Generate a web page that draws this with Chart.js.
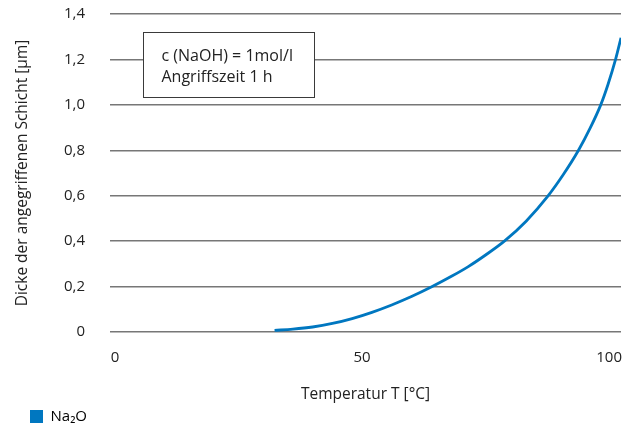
<!DOCTYPE html>
<html>
<head>
<meta charset="utf-8">
<script src="https://cdn.jsdelivr.net/npm/chart.js@4"></script>
<style>
  html, body { margin: 0; padding: 0; background: #fff; }
  #wrap { width: 631px; height: 431px; }
</style>
</head>
<body>
<div id="wrap"><canvas id="myChart" width="631" height="431"></canvas></div>
<script>
// values
var temperatur = [32.3, 36, 40, 44, 48, 52, 56, 60, 64.1, 68, 71.5, 75, 78.8, 83.2, 87.6, 90.7, 93.8, 96.1, 98.3, 99.8, 101.3, 102.4];
var dicke = [0.007, 0.0125, 0.022, 0.0376, 0.059, 0.0866, 0.119, 0.156, 0.199, 0.244, 0.288, 0.339, 0.4, 0.488, 0.598, 0.692, 0.8, 0.895, 1.0, 1.092, 1.2, 1.295];
var xTicks = [0, 50, 100];
var yTicks = [0, 0.2, 0.4, 0.6, 0.8, 1.0, 1.2, 1.4];
var seriesName = "Na\u2082O";
var noteLines = ["c (NaOH) = 1mol/l", "Angriffszeit 1 h"];
// note box corners in data units
var noteBox = { x0: 5.6, x1: 40.2, y0: 1.32, y1: 1.034 };

var blue = "#0077c0";
var fontFam = "'Open Sans', sans-serif";

var points = temperatur.map(function (t, i) {
  return { x: t, y: dicke[i] };
});

// box with the test conditions
const noteBoxPlugin = {
  id: "noteBox",
  beforeDatasetsDraw(chart) {
    const { ctx, scales: { x, y } } = chart;
    const left = Math.round(x.getPixelForValue(noteBox.x0)) + 0.5;
    const right = Math.round(x.getPixelForValue(noteBox.x1)) + 0.5;
    const top = Math.round(y.getPixelForValue(noteBox.y0)) + 0.5;
    const bottom = Math.round(y.getPixelForValue(noteBox.y1)) + 0.5;
    ctx.save();
    ctx.fillStyle = "#fff";
    ctx.fillRect(left, top, right - left, bottom - top);
    ctx.strokeStyle = "#3a3a3a";
    ctx.lineWidth = 1;
    ctx.strokeRect(left, top, right - left, bottom - top);
    ctx.fillStyle = "#222";
    ctx.font = "16px " + fontFam;
    ctx.textAlign = "left";
    ctx.textBaseline = "alphabetic";
    noteLines.forEach((line, i) => {
      ctx.fillText(line, left + 18, top + 28 + i * 21);
    });
    ctx.restore();
  },
};

const ctx = document.getElementById("myChart");

const config = {
  type: "line",
  data: {
    datasets: [
      {
        label: seriesName,
        data: points,
        borderColor: blue,
        backgroundColor: blue,
        borderWidth: 2.8,
        pointRadius: 0,
        cubicInterpolationMode: "monotone",
        fill: false,
      },
    ],
  },
  options: {
    responsive: false,
    animation: false,
    layout: { padding: { left: 20, right: 10, top: 14, bottom: -3 } },
    plugins: {
      tooltip: { enabled: false },
      legend: {
        position: "bottom",
        align: "start",
        labels: {
          boxWidth: 13,
          boxHeight: 13,
          color: "#222",
          font: { family: fontFam, size: 15 },
          generateLabels(chart) {
            return [{
              text: seriesName,
              fillStyle: blue,
              strokeStyle: blue,
              lineWidth: 0,
              datasetIndex: 0,
            }];
          },
        },
      },
    },
    scales: {
      x: {
        type: "linear",
        min: -1,
        max: 102.4,
        afterBuildTicks(axis) {
          axis.ticks = xTicks.map((v) => ({ value: v }));
        },
        afterFit(axis) {
          axis.height = 67;
        },
        grid: { drawOnChartArea: false, drawTicks: true, tickLength: 17, tickColor: "rgba(0,0,0,0)" },
        border: { display: false },
        ticks: {
          padding: 0,
          color: "#222",
          font: { family: fontFam, size: 15 },
        },
        title: {
          display: true,
          text: "Temperatur T [°C]",
          color: "#222",
          font: { family: fontFam, size: 15.5 },
          padding: { top: 0, bottom: -5 },
        },
      },
      y: {
        min: 0,
        max: 1.4,
        afterBuildTicks(axis) {
          axis.ticks = yTicks.map((v) => ({ value: v }));
        },
        afterFit(axis) {
          axis.width = 90;
        },
        grid: { color: "#777", lineWidth: 1.5, drawTicks: true, tickLength: 25, tickColor: "rgba(0,0,0,0)" },
        border: { display: false },
        ticks: {
          padding: 0,
          color: "#222",
          font: { family: fontFam, size: 15 },
          callback: (v) => (v === 0 ? "0" : v.toFixed(1).replace(".", ",")),
        },
        title: {
          display: true,
          text: "Dicke der angegriffenen Schicht [µm]",
          color: "#222",
          font: { family: fontFam, size: 15.5 },
          padding: { top: -7, bottom: 0 },
        },
      },
    },
  },
  plugins: [noteBoxPlugin],
};

var chart = new Chart(ctx, config);
</script>
</body>
</html>
